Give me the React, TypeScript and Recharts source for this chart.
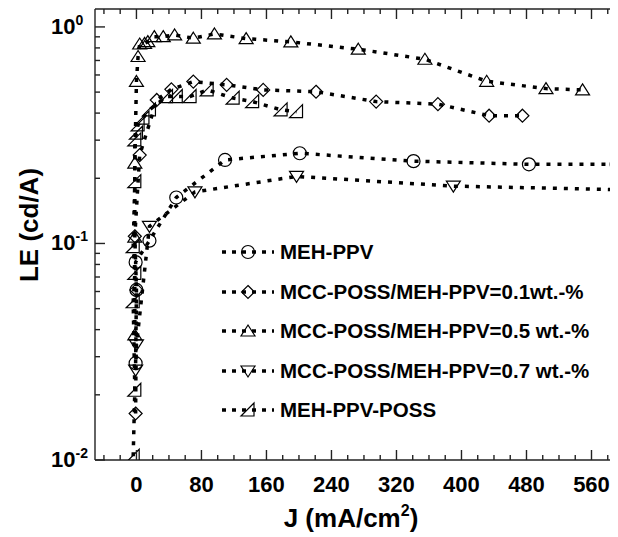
import React from 'react';
import { LineChart, Line, XAxis, YAxis } from 'recharts';

const FONT = "'Liberation Sans', Arial, Helvetica, sans-serif";
const NARROW = "'Liberation Sans Narrow', 'Liberation Sans', Arial, sans-serif";

// J (mA/cm2) / LE (cd/A)
const mehPpvJ = [-1, 0, -1, 16, 49, 109, 201, 341, 483, 591];
const mehPpvLE = [0.028, 0.061, 0.082, 0.103, 0.163, 0.243, 0.261, 0.24, 0.232, 0.232];

const poss01J = [-1, 0, -2, 4, 25, 43, 70, 111, 156, 221, 295, 371, 434, 475];
const poss01LE = [0.0164, 0.061, 0.108, 0.256, 0.46, 0.515, 0.559, 0.54, 0.512, 0.502, 0.452, 0.44, 0.389, 0.389];

const poss05J = [-2, -2, -2, 0, 2, 4, 10, 14, 22, 33, 47, 70, 96, 135, 190, 273, 355, 431, 504, 549];
const poss05LE = [0.0378, 0.107, 0.235, 0.56, 0.73, 0.834, 0.84, 0.855, 0.902, 0.902, 0.918, 0.887, 0.928, 0.883, 0.853, 0.789, 0.709, 0.561, 0.519, 0.512];

const poss07J = [-1, 0, 16, 72, 197, 390, 600];
const poss07LE = [0.026, 0.034, 0.12, 0.173, 0.204, 0.184, 0.177];

const pposJ = [-4, -2, -4, -2, -4, -2, -2, 0, 2, 8, 16, 37, 49, 66, 87, 119, 143, 178, 197];
const pposLE = [0.0104, 0.021, 0.0538, 0.0728, 0.0966, 0.193, 0.301, 0.323, 0.353, 0.379, 0.414, 0.477, 0.477, 0.477, 0.512, 0.469, 0.452, 0.414, 0.406];

const xTicks = [-40, -20, 0, 20, 40, 60, 80, 100, 120, 140, 160, 180, 200, 220, 240, 260, 280, 300, 320, 340, 360, 380, 400, 420, 440, 460, 480, 500, 520, 540, 560, 580];
const yTicks = [0.01, 0.02, 0.03, 0.04, 0.05, 0.06, 0.07, 0.08, 0.09, 0.1, 0.2, 0.3, 0.4, 0.5, 0.6, 0.7, 0.8, 0.9, 1];
const yExponents: Record<string, string> = { '0.01': '-2', '0.1': '-1', '1': '0' };

const toRows = (j: number[], le: number[]) => j.map((v, i) => ({ j: v, le: le[i] }));

const series = [
  { name: 'MEH-PPV', shape: 'circle', data: toRows(mehPpvJ, mehPpvLE) },
  { name: 'MCC-POSS/MEH-PPV=0.1wt.-%', shape: 'diamond', data: toRows(poss01J, poss01LE) },
  { name: 'MCC-POSS/MEH-PPV=0.5 wt.-%', shape: 'up', data: toRows(poss05J, poss05LE) },
  { name: 'MCC-POSS/MEH-PPV=0.7 wt.-%', shape: 'down', data: toRows(poss07J, poss07LE) },
  { name: 'MEH-PPV-POSS', shape: 'half', data: toRows(pposJ, pposLE) },
];

const ink = { fill: 'none', stroke: '#000', strokeWidth: 1.2 };

function Marker({ shape, cx, cy }: { shape: string; cx: number; cy: number }) {
  if (shape === 'circle') return <circle cx={cx} cy={cy} r={6.5} {...ink} />;
  if (shape === 'diamond')
    return <polygon points={`${cx},${cy - 6.5} ${cx + 6.5},${cy} ${cx},${cy + 6.5} ${cx - 6.5},${cy}`} {...ink} />;
  if (shape === 'up')
    return <polygon points={`${cx},${cy - 6} ${cx + 7},${cy + 5} ${cx - 7},${cy + 5}`} {...ink} />;
  if (shape === 'down')
    return <polygon points={`${cx - 7},${cy - 5} ${cx + 7},${cy - 5} ${cx},${cy + 6}`} {...ink} />;
  return <polygon points={`${cx - 7},${cy + 6} ${cx + 6},${cy + 6} ${cx + 6},${cy - 7}`} {...ink} />;
}

const axisStroke = { stroke: '#222', strokeWidth: 1.4 };

function XTick(props: any) {
  const { x, y, payload, side } = props;
  const v = payload.value;
  const major = v % 80 === 0;
  const len = major ? 10 : 5;
  if (side === 'top') return <line x1={x} x2={x} y1={y} y2={y + len} {...axisStroke} />;
  return (
    <g>
      <line x1={x} x2={x} y1={y} y2={y - len} {...axisStroke} />
      {major && (
        <text x={x} y={y + 32} textAnchor="middle" fontFamily={NARROW} fontWeight={700} fontSize={22} fill="#000">
          {v}
        </text>
      )}
    </g>
  );
}

function YTick(props: any) {
  const { x, y, payload, side } = props;
  const exp = yExponents[String(payload.value)];
  const len = exp ? 10 : 5;
  if (side === 'right') return <line x1={x} x2={x - len} y1={y} y2={y} {...axisStroke} />;
  return (
    <g>
      <line x1={x} x2={x + len} y1={y} y2={y} {...axisStroke} />
      {exp && (
        <text x={51} y={y + 7} fontFamily={NARROW} fontWeight={700} fontSize={22} fill="#000">
          10
          <tspan dy={-9} fontSize={14}>{exp}</tspan>
        </text>
      )}
    </g>
  );
}

function Legend() {
  return (
    <div style={{ position: 'absolute', left: 0, top: 0 }}>
      {series.map((s, i) => (
        <div
          key={s.name}
          style={{
            position: 'absolute',
            left: 218,
            top: 252 + i * 39.5 - 12,
            height: 24,
            display: 'flex',
            alignItems: 'center',
            whiteSpace: 'nowrap',
          }}
        >
          <svg width={62} height={24}>
            <line x1={4} x2={56} y1={12} y2={12} stroke="#000" strokeWidth={3.5} strokeDasharray="4 6" />
            <Marker shape={s.shape} cx={30} cy={12} />
          </svg>
          <span style={{ fontFamily: FONT, fontWeight: 700, fontSize: 20.5, color: '#000' }}>{s.name}</span>
        </div>
      ))}
    </div>
  );
}

export default function App() {
  return (
    <div style={{ position: 'relative', width: 618, height: 537, margin: '-8px 0 0 -8px', overflow: 'hidden', background: '#fff' }}>
      <LineChart width={625} height={537} margin={{ top: 8, right: 0, bottom: 0, left: 0 }} style={{ fontFamily: FONT }}>
        <XAxis
          xAxisId="b"
          dataKey="j"
          type="number"
          domain={[-51, 600]}
          allowDataOverflow
          ticks={xTicks}
          interval={0}
          height={77}
          tickSize={0}
          tickMargin={0}
          tickLine={false}
          axisLine={axisStroke}
          tick={(p: any) => <XTick {...p} side="bottom" />}
          label={{
            content: () => (
              <text x={351} y={527} textAnchor="middle" fontFamily={FONT} fontWeight={700} fontSize={26} fill="#000">
                J (mA/cm
                <tspan dy={-11} fontSize={16}>2</tspan>
                <tspan dy={11}>)</tspan>
              </text>
            ),
          }}
        />
        <XAxis
          xAxisId="t"
          orientation="top"
          dataKey="j"
          type="number"
          domain={[-51, 600]}
          allowDataOverflow
          ticks={xTicks}
          interval={0}
          height={1}
          tickSize={0}
          tickMargin={0}
          tickLine={false}
          axisLine={axisStroke}
          tick={(p: any) => <XTick {...p} side="top" />}
        />
        <YAxis
          yAxisId="l"
          dataKey="le"
          type="number"
          scale="log"
          domain={[0.01, 1.21]}
          allowDataOverflow
          ticks={yTicks}
          interval={0}
          width={95}
          tickSize={0}
          tickMargin={0}
          tickLine={false}
          axisLine={axisStroke}
          tick={(p: any) => <YTick {...p} side="left" />}
          label={{
            content: () => (
              <text
                x={38}
                y={225}
                transform="rotate(-90 38 225)"
                textAnchor="middle"
                fontFamily={FONT}
                fontWeight={700}
                fontSize={26}
                fill="#000"
              >
                LE (cd/A)
              </text>
            ),
          }}
        />
        <YAxis
          yAxisId="r"
          orientation="right"
          dataKey="le"
          type="number"
          scale="log"
          domain={[0.01, 1.21]}
          allowDataOverflow
          ticks={yTicks}
          interval={0}
          width={1}
          tickSize={0}
          tickMargin={0}
          tickLine={false}
          axisLine={axisStroke}
          tick={(p: any) => <YTick {...p} side="right" />}
        />
        {series.map((s) => (
          <Line
            key={s.name}
            xAxisId="b"
            yAxisId="l"
            data={s.data}
            dataKey="le"
            name={s.name}
            type="linear"
            stroke="#000"
            strokeWidth={3.5}
            strokeDasharray="4 7"
            dot={(p: any) => <Marker key={`${s.shape}-${p.index}`} shape={s.shape} cx={p.cx} cy={p.cy} />}
            activeDot={false}
            isAnimationActive={false}
          />
        ))}
      </LineChart>
      <Legend />
    </div>
  );
}
